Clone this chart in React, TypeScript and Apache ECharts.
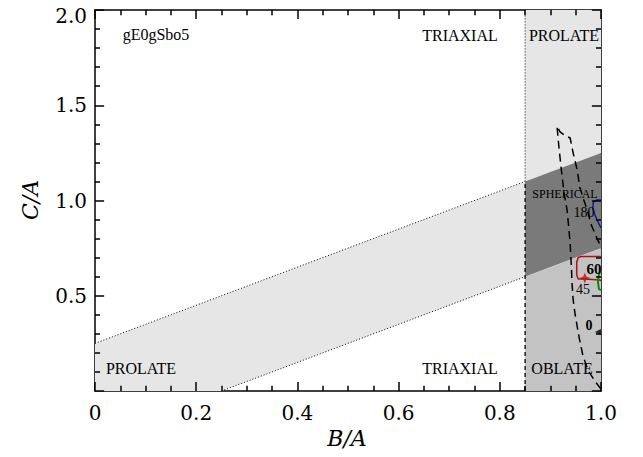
import React, { useEffect, useRef } from "react";
import * as echarts from "echarts";

// ---- axis ticks ----
const xTickValues = [0, 0.2, 0.4, 0.6, 0.8, 1.0];
const xMinorTicks = [0.05, 0.1, 0.15, 0.25, 0.3, 0.35, 0.45, 0.5, 0.55, 0.65, 0.7, 0.75, 0.85, 0.9, 0.95];
const yTickValues = [0, 0.5, 1.0, 1.5, 2.0];
const yLabelValues = [0.5, 1.0, 1.5];
const yMinorTicks = [0.1, 0.2, 0.3, 0.4, 0.6, 0.7, 0.8, 0.9, 1.1, 1.2, 1.3, 1.4, 1.6, 1.7, 1.8, 1.9];
const yTopLabel = "2.0";

// ---- shape-classification regions (B/A, C/A) ----
const triaxialBand = [[0, 0], [0, 0.25], [0.85, 1.10], [0.85, 0.60], [0.25, 0]];
const prolateCorner = [[0.85, 1.10], [0.85, 2.0], [1, 2.0], [1, 1.25]];
const sphericalCorner = [[0.85, 0.60], [0.85, 1.10], [1, 1.25], [1, 0.75]];
const oblateCorner = [[0.85, 0], [0.85, 0.60], [1, 0.75], [1, 0]];

// ---- boundary lines ----
const upperEdge = [[0, 0.25], [0.85, 1.10]];
const lowerEdge = [[0.25, 0], [0.85, 0.60]];
const verticalDotted = [[0.85, 1.10], [0.85, 2.0]];
const verticalDashed = [[0.85, 0], [0.85, 1.10]];

// ---- contours ----
const dashedContour = [
  [1.0, 0.01], [0.988, 0.052], [0.974, 0.11], [0.964, 0.189], [0.957, 0.278],
  [0.949, 0.399], [0.945, 0.478], [0.943, 0.556], [0.941, 0.677], [0.939, 0.777],
  [0.933, 0.95], [0.927, 1.039], [0.921, 1.176], [0.917, 1.276], [0.913, 1.391],
  [0.919, 1.36], [0.927, 1.344], [0.939, 1.328], [0.945, 1.249], [0.953, 1.16],
  [0.958, 1.071], [0.966, 1.003], [0.974, 0.94], [0.98, 0.877], [0.99, 0.814],
  [1.0, 0.756],
];
const blueContour = [
  [1.0, 1.003], [0.992, 1.003], [0.985, 0.992], [0.984, 0.961], [0.988, 0.924],
  [0.994, 0.887], [1.0, 0.856],
];
const redContour = [
  [1.0, 0.703], [0.998, 0.706], [0.961, 0.706], [0.955, 0.701], [0.952, 0.677],
  [0.952, 0.609], [0.955, 0.588], [0.968, 0.588], [0.998, 0.583], [1.0, 0.577],
];
const greenContour = [
  [1.0, 0.63], [0.996, 0.614], [0.994, 0.572], [0.996, 0.535], [1.0, 0.53],
];
const redStar = [[0.968, 0.593]];
const blackArrow = [[0.994, 0.31]];

const SERIF = "'Liberation Serif', 'DejaVu Serif', serif";
const DSERIF = "'DejaVu Serif', serif";

// plot box extent (data units)
const X_MIN = 0, X_MAX = 1, Y_MIN = 0, Y_MAX = 2;
// tick lengths in data units (9 px / 5 px at this plot size)
const X_TICK_MAJOR = 0.047, X_TICK_MINOR = 0.027; // vertical ticks on x axes (in y units)
const Y_TICK_MAJOR = 0.018, Y_TICK_MINOR = 0.010; // horizontal ticks on y axes (in x units)

export default function App() {
  const ref = useRef<HTMLDivElement>(null);
  useEffect(() => {
    if (!ref.current) return;
    const chart = echarts.init(ref.current, undefined, { renderer: "svg" });

    const regions = [
      { pts: triaxialBand, color: "#e6e6e6" },
      { pts: prolateCorner, color: "#e6e6e6" },
      { pts: sphericalCorner, color: "#7a7a7a" },
      { pts: oblateCorner, color: "#c3c3c3" },
    ];

    const tickSegs: any[] = [];
    const addX = (v: number, len: number) => {
      tickSegs.push({ coords: [[v, Y_MIN], [v, Y_MIN + len]] });
      tickSegs.push({ coords: [[v, Y_MAX], [v, Y_MAX - len]] });
    };
    const addY = (v: number, len: number) => {
      tickSegs.push({ coords: [[X_MIN, v], [X_MIN + len, v]] });
      tickSegs.push({ coords: [[X_MAX, v], [X_MAX - len, v]] });
    };
    xTickValues.forEach((v) => addX(v, X_TICK_MAJOR));
    xMinorTicks.forEach((v) => addX(v, X_TICK_MINOR));
    yTickValues.forEach((v) => addY(v, Y_TICK_MAJOR));
    yMinorTicks.forEach((v) => addY(v, Y_TICK_MINOR));

    const axisCommon: any = {
      type: "value",
      axisLine: { show: true, onZero: false, lineStyle: { color: "#000", width: 1.5 } },
      axisTick: { show: false },
      minorTick: { show: false },
      splitLine: { show: false },
      minorSplitLine: { show: false },
    };

    const xLabel = {
      fontFamily: DSERIF,
      fontSize: 20,
      color: "#000",
      margin: 12,
      formatter: (v: number) => (xTickValues.includes(v) ? (v === 0 ? "0" : v.toFixed(1)) : ""),
    };
    const yLabel = {
      fontFamily: DSERIF,
      fontSize: 20,
      color: "#000",
      margin: 8,
      formatter: (v: number) => (yLabelValues.includes(v) ? v.toFixed(1) : ""),
    };

    const line = (data: number[][], color: string, width: number, type: any) => ({
      type: "line",
      data,
      showSymbol: false,
      symbol: "none",
      silent: true,
      z: 3,
      lineStyle: { color, width, type },
    });

    const txt = (text: string, x: number, y: number, size: number, font = SERIF, extra: any = {}) => ({
      type: "text",
      x,
      y,
      z: 100,
      style: {
        text,
        fill: "#000",
        font: `${extra.fontStyle || "normal"} ${extra.fontWeight || "normal"} ${size}px ${font}`,
        textAlign: extra.align || "center",
        textVerticalAlign: "middle",
      },
      ...(extra.rotation ? { rotation: extra.rotation } : {}),
    });

    chart.setOption({
      animation: false,
      backgroundColor: "#fff",
      grid: { left: 95, right: 42, top: 10, bottom: 66 },
      xAxis: [
        { ...axisCommon, position: "bottom", min: X_MIN, max: X_MAX, interval: 0.2, axisLabel: xLabel },
        { ...axisCommon, position: "top", min: X_MIN, max: X_MAX, interval: 0.2, axisLabel: { show: false } },
      ],
      yAxis: [
        { ...axisCommon, position: "left", min: Y_MIN, max: Y_MAX, interval: 0.5, axisLabel: yLabel },
        { ...axisCommon, position: "right", min: Y_MIN, max: Y_MAX, interval: 0.5, axisLabel: { show: false } },
      ],
      series: [
        {
          type: "custom",
          silent: true,
          z: 1,
          data: regions.map((_, i) => [i]),
          encode: { x: [], y: [] },
          renderItem: (params: any, api: any) => {
            const reg = regions[params.dataIndex];
            return {
              type: "polygon",
              shape: { points: reg.pts.map((p) => api.coord(p)) },
              style: { fill: reg.color, stroke: null },
            };
          },
        },
        line(upperEdge, "#000", 1, [1, 2]),
        line(lowerEdge, "#000", 1, [1, 2]),
        line(verticalDotted, "#000", 1, [1, 2]),
        line(verticalDashed, "#000", 1.3, [4, 3]),
        line(dashedContour, "#000", 1.5, [8, 5]),
        line(blueContour, "#0a1aa0", 1.5, "solid"),
        line(redContour, "#b01010", 1.5, "solid"),
        line(greenContour, "#0a8a0a", 2, "solid"),
        {
          type: "scatter",
          data: redStar,
          symbol: "path://M0,-5 L1.4,-1.4 L5,0 L1.4,1.4 L0,5 L-1.4,1.4 L-5,0 L-1.4,-1.4 Z",
          symbolSize: 11,
          itemStyle: { color: "#c01010" },
          z: 4,
          silent: true,
        },
        {
          type: "scatter",
          data: blackArrow,
          symbol: "triangle",
          symbolRotate: 90,
          symbolSize: 6,
          itemStyle: { color: "#000" },
          z: 4,
          silent: true,
        },
        {
          type: "lines",
          coordinateSystem: "cartesian2d",
          silent: true,
          z: 8,
          symbol: "none",
          lineStyle: { color: "#000", width: 1.5, opacity: 1, curveness: 0 },
          data: tickSegs,
        },
      ],
      graphic: [
        txt(yTopLabel, 87, 16, 20, DSERIF, { align: "right" }),
        txt("gE0gSbo5", 156, 34, 16),
        txt("TRIAXIAL", 460, 35, 16),
        txt("PROLATE", 564, 35, 16),
        txt("PROLATE", 141, 368, 16),
        txt("TRIAXIAL", 460, 368, 16),
        txt("OBLATE", 562, 368, 16),
        txt("SPHERICAL", 565, 194, 12),
        txt("180", 584, 212, 14),
        txt("60", 594, 269, 15, SERIF, { fontWeight: "bold" }),
        txt("45", 583, 289, 14),
        txt("0", 589, 325, 14, SERIF, { fontWeight: "bold" }),
        txt("B/A", 347, 438, 22, DSERIF, { fontStyle: "italic" }),
        txt("C/A", 30, 200, 22, DSERIF, { fontStyle: "italic", rotation: Math.PI / 2 }),
      ],
    });

    return () => chart.dispose();
  }, []);
  return (
    <div
      ref={ref}
      style={{ position: "fixed", left: 0, top: 0, width: 643, height: 457, background: "#fff" }}
    />
  );
}
